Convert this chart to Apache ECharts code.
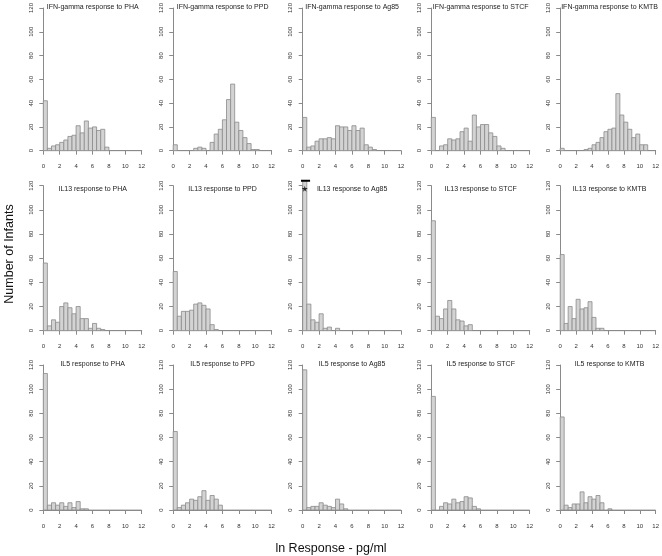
<!DOCTYPE html>
<html>
<head>
<meta charset="utf-8">
<script src="https://cdn.jsdelivr.net/npm/echarts@6/dist/echarts.min.js"></script>
<style>
  html, body { margin: 0; padding: 0; background: #fff; }
  #chart { width: 662px; height: 556px; }
</style>
</head>
<body>
<div id="chart"></div>
<script>
// ---------- DATA ----------
const binWidth = 0.5;           // histogram bin width (ln pg/ml)
const xTicks = [0, 2, 4, 6, 8, 10, 12];
const yTicks = [0, 20, 40, 60, 80, 100, 120];

const titles = [
  'IFN-gamma response to PHA', 'IFN-gamma response to PPD', 'IFN-gamma response to Ag85',
  'IFN-gamma response to STCF', 'IFN-gamma response to KMTB',
  'IL13 response to PHA', 'IL13 response to PPD', 'IL13 response to Ag85',
  'IL13 response to STCF', 'IL13 response to KMTB',
  'IL5 response to PHA', 'IL5 response to PPD', 'IL5 response to Ag85',
  'IL5 response to STCF', 'IL5 response to KMTB'
];

// counts per 0.5-wide bin starting at 0
const ifnPHA  = [42,2,4,5,7,9,12,13,21,15,25,19,20,17,18,3];
const ifnPPD  = [5,0,0,0,0,2,3,2,0,7,14,18,26,43,56,24,17,11,6,1,1];
const ifnAg85 = [28,3,4,8,10,10,11,10,21,20,20,17,21,17,19,5,3,1];
const ifnSTCF = [28,0,4,5,10,9,10,16,19,8,30,20,22,22,15,12,4,2];
const ifnKMTB = [2,0,0,0,0,0,1,2,5,7,11,16,18,19,48,30,24,18,11,14,5,5];

const il13PHA  = [56,4,9,7,20,23,19,14,20,10,10,2,6,2,1];
const il13PPD  = [49,12,16,16,17,22,23,21,18,5,1];
const il13Ag85 = [124,22,9,7,14,2,3,0,2];
const il13STCF = [91,12,10,18,25,18,9,8,4,5];
const il13KMTB = [63,6,20,10,26,18,19,24,11,2,2];

const il5PHA  = [113,4,6,4,6,3,6,2,7,1,1];
const il5PPD  = [65,2,4,6,9,8,11,16,8,12,9,4];
const il5Ag85 = [116,2,3,3,6,4,3,2,9,5,1];
const il5STCF = [94,0,3,6,5,9,6,7,11,10,3,1];
const il5KMTB = [77,4,2,5,5,15,6,11,9,12,6,0,1];

const panels = [ifnPHA, ifnPPD, ifnAg85, ifnSTCF, ifnKMTB,
                il13PHA, il13PPD, il13Ag85, il13STCF, il13KMTB,
                il5PHA, il5PPD, il5Ag85, il5STCF, il5KMTB];

// annotation on the IL13 / Ag85 panel
const capLine = [[-0.4, 124], [0.9, 124]];
const starPoint = [[0.25, 117.5]];

// ---------- LAYOUT ----------
const FONT = "'Liberation Sans', Arial, Helvetica, sans-serif";
const colX0 = [43.3, 173.2, 302.7, 431.3, 560.2];
const rowY0 = [150.7, 330.7, 510];
const plotW = 98.4, plotH = 145;
const titleY = [7, 189, 364];
const xMax = xTicks[xTicks.length - 1];
const nBins = Math.round(xMax / binWidth);

const grids = [], xAxes = [], yAxes = [], series = [], graphics = [];

panels.forEach((counts, i) => {
  const r = Math.floor(i / 5), c = i % 5;
  grids.push({ left: colX0[c], top: rowY0[r] - plotH, width: plotW, height: plotH });
  xAxes.push({
    gridIndex: i, type: 'value', min: xTicks[0], max: xMax, interval: 2, offset: 6,
    axisLine: { show: true, lineStyle: { color: '#8a8a8a', width: 1 } },
    axisTick: { show: true, length: 4, lineStyle: { color: '#8a8a8a' } },
    axisLabel: { fontSize: 6, color: '#333', margin: 7, fontFamily: FONT },
    splitLine: { show: false }
  });
  yAxes.push({
    gridIndex: i, type: 'value', min: yTicks[0], max: yTicks[yTicks.length - 1], interval: 20, offset: 4,
    axisLine: { show: true, lineStyle: { color: '#8a8a8a', width: 1 } },
    axisTick: { show: true, length: 4, lineStyle: { color: '#8a8a8a' } },
    axisLabel: { fontSize: 6, color: '#333', margin: 5, rotate: 90, fontFamily: FONT },
    splitLine: { show: false }
  });
  const data = [];
  for (let k = 0; k < nBins; k++) {
    data.push([k * binWidth, (k + 1) * binWidth, k < counts.length ? counts[k] : 0]);
  }
  series.push({
    type: 'custom', xAxisIndex: i, yAxisIndex: i, data: data, silent: true,
    renderItem: function (params, api) {
      const s = api.value(0), e = api.value(1), v = api.value(2);
      const p0 = api.coord([s, v]);
      const p1 = api.coord([e, 0]);
      if (v <= 0) {
        return { type: 'line', shape: { x1: p0[0], y1: p1[1], x2: p1[0], y2: p1[1] },
                 style: { stroke: '#8a8a8a', lineWidth: 0.8 } };
      }
      return {
        type: 'rect',
        shape: { x: p0[0], y: p0[1], width: p1[0] - p0[0], height: p1[1] - p0[1] },
        style: { fill: '#d3d3d3', stroke: '#8a8a8a', lineWidth: 0.8 }
      };
    }
  });
  graphics.push({
    type: 'text',
    x: colX0[c] - 3.9 + (plotW * 13 / 12) / 2, y: titleY[r],
    style: { text: titles[i], fontSize: 7, fill: '#222', fontFamily: FONT,
             textAlign: 'center', textVerticalAlign: 'middle' }
  });
});

// annotation series on IL13 / Ag85 panel (index 7)
series.push({
  type: 'line', xAxisIndex: 7, yAxisIndex: 7, data: capLine, symbol: 'none', clip: false,
  silent: true, lineStyle: { color: '#000', width: 2 }, z: 5
});
series.push({
  type: 'scatter', xAxisIndex: 7, yAxisIndex: 7, data: starPoint, clip: false, silent: true,
  symbol: 'path://M50,0 L61,35 L98,35 L68,57 L79,91 L50,70 L21,91 L32,57 L2,35 L39,35 Z',
  symbolSize: 6, itemStyle: { color: '#000' }, z: 6
});

graphics.push({
  type: 'text', x: 10, y: 254, rotation: Math.PI / 2,
  style: { text: 'Number of Infants', fontSize: 12.5, fill: '#111', fontFamily: FONT,
           textAlign: 'center', textVerticalAlign: 'middle' }
});
graphics.push({
  type: 'text', x: 331, y: 549,
  style: { text: 'ln Response - pg/ml', fontSize: 12.5, fill: '#111', fontFamily: FONT,
           textAlign: 'center', textVerticalAlign: 'middle' }
});

const chart = echarts.init(document.getElementById('chart'), null, { renderer: 'canvas' });
chart.setOption({
  animation: false,
  backgroundColor: '#fff',
  grid: grids,
  xAxis: xAxes,
  yAxis: yAxes,
  series: series,
  graphic: graphics
});
</script>
</body>
</html>
